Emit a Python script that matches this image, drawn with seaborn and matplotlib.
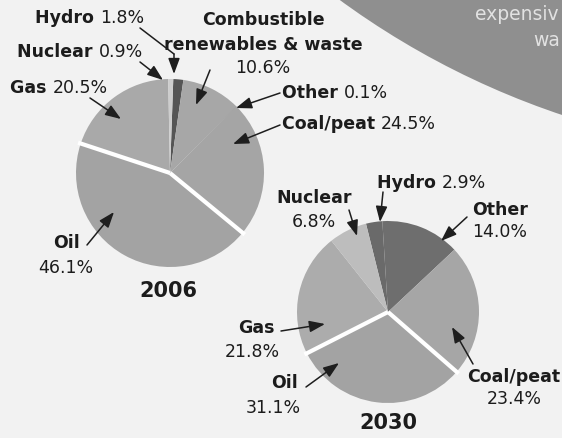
import matplotlib
matplotlib.use("Agg")
import matplotlib.pyplot as plt
import seaborn as sns
import numpy as np
from matplotlib.patches import Circle

sns.set_theme(style="white")
plt.rcParams['font.family'] = ['DejaVu Sans']

# ---- data ----
labels_2006 = ["Hydro", "Combustible renewables & waste", "Other", "Coal/peat", "Oil", "Gas", "Nuclear"]
values_2006 = [1.8, 10.6, 0.1, 24.5, 46.1, 20.5, 0.9]
labels_2030 = ["Hydro", "Other", "Coal/peat", "Oil", "Gas", "Nuclear"]
values_2030 = [2.9, 14.0, 23.4, 31.1, 21.8, 6.8]
years = ["2006", "2030"]

colors_2006 = ["#555555", "#a7a7a7", "#6a6a6a", "#a5a5a5", "#a3a3a3", "#a9a9a9", "#cdcdcd"]
colors_2030 = ["#6a6a6a", "#6e6e6e", "#a6a6a6", "#a3a3a3", "#acacac", "#bdbdbd"]

W, H = 562, 438
BG = "#f2f2f2"
TXT = "#1c1c1c"
fig = plt.figure(figsize=(W / 100, H / 100), dpi=100, facecolor=BG)
ax = fig.add_axes([0, 0, 1, 1])
ax.set_facecolor(BG)


def P(x, y):
    return (x, H - y)


# decorative shape top right (cropped in the source)
ax.add_patch(Circle(P(820, -656), 813, color="#8f8f8f", lw=0, zorder=0))
ax.text(475, H - 14, "expensiv", fontsize=13.5, color="#e2e2e2", va="center", ha="left")
ax.text(533, H - 41, "wa", fontsize=13.5, color="#e2e2e2", va="center", ha="left")


def draw_pie(values, colors, center, radius, startangle, gap_idx):
    wedges, _ = ax.pie(values, colors=colors, center=P(*center), radius=radius,
                       startangle=startangle, counterclock=False,
                       wedgeprops=dict(linewidth=0))
    cx, cy = P(*center)
    w = wedges[gap_idx]
    for th in (w.theta1, w.theta2):
        t = np.deg2rad(th)
        ax.plot([cx, cx + radius * 1.03 * np.cos(t)], [cy, cy + radius * 1.03 * np.sin(t)],
                color="white", lw=3, solid_capstyle="butt", zorder=3)
    return wedges


draw_pie(values_2006, colors_2006, (170, 173), 94, 88, labels_2006.index("Oil"))
draw_pie(values_2030, colors_2030, (388, 312), 91, 104, labels_2030.index("Oil"))

ax.set_xlim(0, W)
ax.set_ylim(0, H)
ax.set_aspect("equal")
ax.axis("off")

renderer = fig.canvas.get_renderer()
FS = 12.5


def mixed(x, y, parts, ha="left", size=FS):
    objs = []
    cur = x
    for s, wt in parts:
        t = ax.text(cur, H - y, s, fontsize=size, fontweight=wt, va="center", ha="left", color=TXT, zorder=5)
        bb = t.get_window_extent(renderer=renderer)
        cur += bb.width
        objs.append(t)
    total = cur - x
    if ha == "center":
        for t in objs:
            px, py = t.get_position()
            t.set_x(px - total / 2)


def arrow(tail, tip):
    ax.annotate("", xy=P(*tip), xytext=P(*tail),
                arrowprops=dict(arrowstyle="-|>,head_length=0.95,head_width=0.35",
                                color="#1e1e1e", lw=1.1, shrinkA=0, shrinkB=0,
                                mutation_scale=10), zorder=6)


B, N = "semibold", "normal"

# 2006 labels
mixed(35, 18, [("Hydro ", B), ("1.8%", N)])
mixed(17, 52, [("Nuclear ", B), ("0.9%", N)])
mixed(10, 88, [("Gas ", B), ("20.5%", N)])
mixed(263, 20, [("Combustible", B)], ha="center")
mixed(263, 45, [("renewables & waste", B)], ha="center")
mixed(263, 68, [("10.6%", N)], ha="center")
mixed(282, 93, [("Other ", B), ("0.1%", N)])
mixed(282, 124, [("Coal/peat ", B), ("24.5%", N)])
mixed(66, 243, [("Oil", B)], ha="center")
mixed(66, 268, [("46.1%", N)], ha="center")
mixed(168, 291, [(years[0], "bold")], ha="center", size=15)

ax.plot(*zip(P(140, 28), P(174, 54)), color="#1e1e1e", lw=1.1, zorder=6)
arrow((174, 54), (174, 74))
arrow((140, 62), (163, 80))
arrow((90, 98), (121, 119))
arrow((210, 70), (196, 105))
arrow((280, 93), (236, 108))
arrow((280, 125), (233, 144))
arrow((87, 245), (114, 212))

# 2030 labels
mixed(314, 198, [("Nuclear", B)], ha="center")
mixed(314, 222, [("6.8%", N)], ha="center")
mixed(377, 183, [("Hydro ", B), ("2.9%", N)])
mixed(500, 210, [("Other", B)], ha="center")
mixed(500, 232, [("14.0%", N)], ha="center")
mixed(514, 377, [("Coal/peat", B)], ha="center")
mixed(514, 399, [("23.4%", N)], ha="center")
mixed(256, 328, [("Gas", B)], ha="center")
mixed(252, 352, [("21.8%", N)], ha="center")
mixed(285, 383, [("Oil", B)], ha="center")
mixed(273, 408, [("31.1%", N)], ha="center")
mixed(388, 423, [(years[1], "bold")], ha="center", size=15)

arrow((349, 210), (357, 236))
arrow((383, 192), (380, 222))
arrow((467, 217), (441, 241))
arrow((473, 364), (452, 327))
arrow((281, 331), (325, 324))
arrow((306, 387), (339, 363))

fig.savefig("out.png", dpi=100, facecolor=BG)
